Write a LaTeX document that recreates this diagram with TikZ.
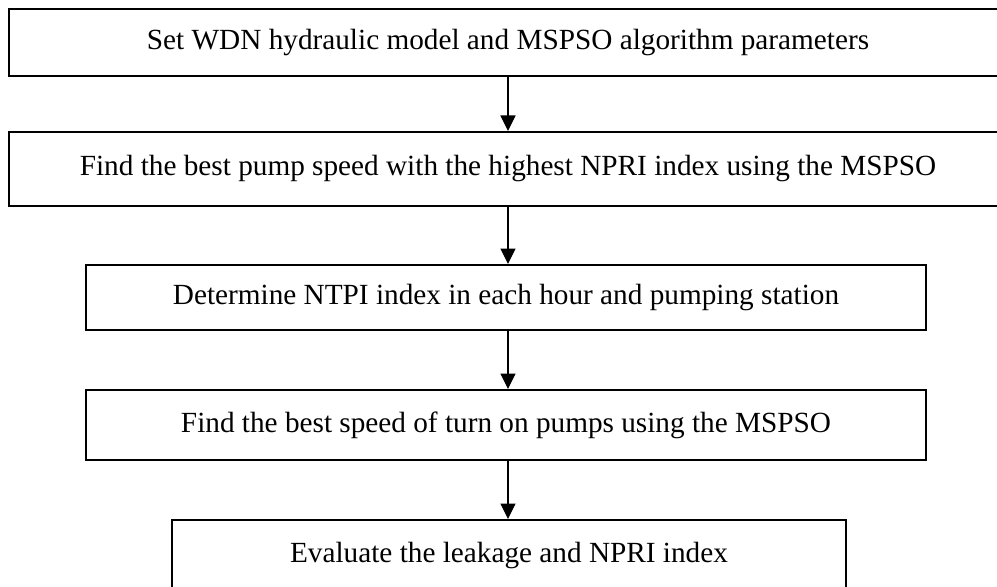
\documentclass[tikz,border=0pt]{standalone}
\usepackage{fontspec}
\setmainfont{Liberation Serif}
\usetikzlibrary{arrows.meta}
\tikzset{
	stepbox/.style={%
		draw,
		line width=0.8pt,
		inner sep=0pt,
		font=\fontsize{11.7}{14}\selectfont
	},
	flowarrow/.style={%
		-{Triangle[width=6pt,length=6.2pt]},
		line width=0.45pt
	}
}
\begin{document}
\begin{tikzpicture}[x=0.4pt, y=-0.4pt]
	\useasboundingbox (0,0) rectangle (997,586);
	\clip (0,0) rectangle (997,586);

	\node[stepbox, minimum width=399.2pt, minimum height=26.8pt] (setup) at (508,43)
		{Set WDN hydraulic model and MSPSO algorithm parameters};
	\node[stepbox, minimum width=399.2pt, minimum height=29.6pt] (pumpspeed) at (508,169)
		{Find the best pump speed with the highest NPRI index using the MSPSO};
	\node[stepbox, minimum width=336pt, minimum height=26pt] (ntpi) at (506,297.5)
		{Determine NTPI index in each hour and pumping station};
	\node[stepbox, minimum width=336pt, minimum height=28pt] (turnon) at (506,425)
		{Find the best speed of turn on pumps using the MSPSO};
	\node[stepbox, minimum width=269.6pt, minimum height=28pt] (evaluate) at (509,555)
		{Evaluate the leakage and NPRI index};

	\draw[flowarrow] (setup.south) -- (setup.south |- pumpspeed.north);
	\draw[flowarrow] (pumpspeed.south) -- (pumpspeed.south |- ntpi.north);
	\draw[flowarrow] (pumpspeed.south |- ntpi.south) -- (pumpspeed.south |- turnon.north);
	\draw[flowarrow] (pumpspeed.south |- turnon.south) -- (pumpspeed.south |- evaluate.north);
\end{tikzpicture}
\end{document}
